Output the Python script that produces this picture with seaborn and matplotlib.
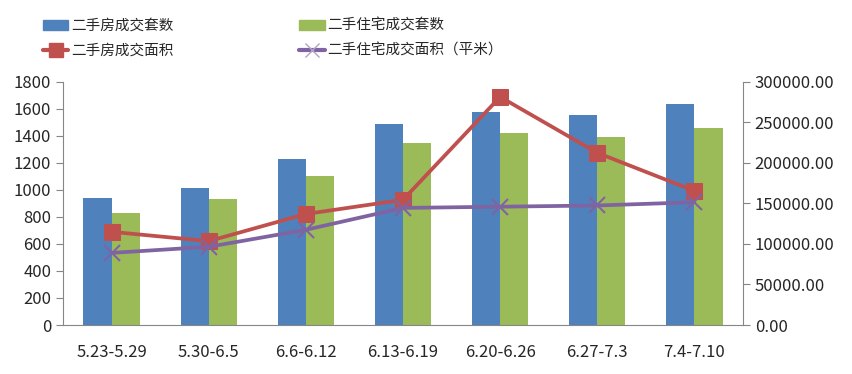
import numpy as np
import pandas as pd
import matplotlib
matplotlib.use("Agg")
import matplotlib.pyplot as plt
import seaborn as sns
from matplotlib.ticker import FormatStrFormatter

# weekly second-hand housing deals
weeks = ["5.23-5.29", "5.30-6.5", "6.6-6.12", "6.13-6.19", "6.20-6.26", "6.27-7.3", "7.4-7.10"]
house_units = [940, 1015, 1230, 1490, 1578, 1556, 1637]
resid_units = [830, 933, 1104, 1348, 1422, 1393, 1459]
house_area = [115000, 103500, 137000, 154500, 281500, 212500, 165500]
resid_area = [89000, 96500, 117500, 144500, 146000, 147500, 151500]

series_names = ["二手房成交套数", "二手住宅成交套数", "二手房成交面积", "二手住宅成交面积（平米）"]
colors = ["#4F81BD", "#9BBB59", "#C0504D", "#8064A2"]

sns.set_style("white")
plt.rcParams['font.family'] = ['Noto Sans CJK SC', 'DejaVu Sans']

df_bars = pd.DataFrame({
    "week": weeks * 2,
    "count": house_units + resid_units,
    "series": [series_names[0]] * len(weeks) + [series_names[1]] * len(weeks),
})

fig = plt.figure(figsize=(8.52, 3.74), dpi=100)
ax = fig.add_axes([0.074, 0.131, 0.798, 0.650])

sns.barplot(data=df_bars, x="week", y="count", hue="series", order=weeks,
            palette=colors[:2], width=0.58, saturation=1, linewidth=0,
            ax=ax, legend=False)
ax.set_ylim(0, 1800)
ax.set_yticks(np.arange(0, 1801, 200))
ax.set_xlim(-0.5, len(weeks) - 0.5)
ax.set_xlabel("")
ax.set_ylabel("")

# category ticks at boundaries, labels at centres
pos = np.arange(len(weeks))
ax.set_xticks(np.arange(len(weeks) + 1) - 0.5)
ax.set_xticklabels([])
ax.set_xticks(pos, minor=True)
ax.set_xticklabels(weeks, minor=True)
ax.tick_params(axis="x", which="minor", length=0, pad=14, labelsize=12)
ax.tick_params(axis="x", which="major", length=5, color="#868686", direction="out")
ax.tick_params(axis="y", length=5, color="#868686", direction="out", labelsize=12, left=True)

ax2 = ax.twinx()
sns.lineplot(x=pos, y=house_area, color=colors[2], marker="s", markersize=11.5,
             markeredgecolor=colors[2], linewidth=2.7, ax=ax2)
sns.lineplot(x=pos, y=resid_area, color=colors[3], marker="x", markersize=12,
             markeredgecolor=colors[3], markeredgewidth=1.5, linewidth=2.7, ax=ax2)
ax2.set_ylim(0, 300000)
ax2.set_yticks(np.arange(0, 300001, 50000))
ax2.yaxis.set_major_formatter(FormatStrFormatter("%.2f"))
ax2.tick_params(axis="y", length=5, color="#868686", direction="out", labelsize=12, right=True)
ax2.set_xlim(-0.5, len(weeks) - 0.5)

for a in (ax, ax2):
    a.spines["top"].set_visible(False)
    for s in ("left", "right", "bottom"):
        a.spines[s].set_color("#868686")
ax.spines["right"].set_visible(False)
ax2.spines["left"].set_visible(False)
ax2.spines["bottom"].set_visible(False)

# legend: bars on first row, lines on second
handles = [
    plt.Rectangle((0, 0), 1, 1, color=colors[0]),
    plt.Line2D([], [], color=colors[2], marker="s", markersize=10, linewidth=3),
    plt.Rectangle((0, 0), 1, 1, color=colors[1]),
    plt.Line2D([], [], color=colors[3], marker="x", markersize=10, markeredgewidth=1,
               markeredgecolor="#B3A2C7", linewidth=3),
]
labels = [series_names[0], series_names[2], series_names[1], series_names[3]]
fig.legend(handles, labels, ncol=2, loc="upper left", bbox_to_anchor=(0.035, 0.985),
           frameon=False, fontsize=10.5, handlelength=1.75, columnspacing=8.6,
           labelspacing=0.75, handletextpad=0.2)

fig.savefig("out.png", dpi=100)
